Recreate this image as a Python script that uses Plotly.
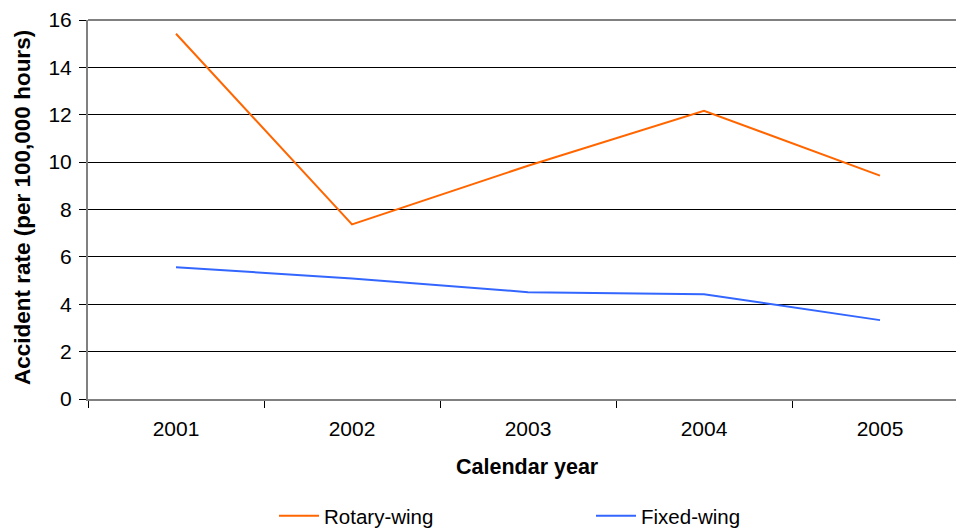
import plotly.graph_objects as go

years = ["2001", "2002", "2003", "2004", "2005"]
rotary_wing = [15.42, 7.37, 9.85, 12.17, 9.43]
fixed_wing = [5.56, 5.09, 4.51, 4.42, 3.33]
y_ticks = [0, 2, 4, 6, 8, 10, 12, 14, 16]

FONT = "Liberation Sans, Arial, sans-serif"
W, H = 956, 521  # page body has an 8px margin

fig = go.Figure()
fig.add_trace(go.Scatter(x=years, y=rotary_wing, mode="lines", name="Rotary-wing",
                         line=dict(color="#FF6600", width=2)))
fig.add_trace(go.Scatter(x=years, y=fixed_wing, mode="lines", name="Fixed-wing",
                         line=dict(color="#3366FF", width=2)))

fig.update_layout(
    width=W, height=H,
    margin=dict(l=80, r=0, t=12, b=130, pad=0),
    paper_bgcolor="white", plot_bgcolor="white",
    font=dict(family=FONT, size=21, color="black"),
    showlegend=True,
    legend=dict(orientation="h", x=(274 - 8) / W, xanchor="left",
                y=1 - (516 - 8) / H, yanchor="middle",
                xref="container", yref="container",
                entrywidth=262, entrywidthmode="pixels",
                font=dict(size=20.5), itemwidth=40),
    xaxis=dict(type="category", range=[-0.5, 4.5 - 4 / 176],
               showline=True, linecolor="#808080", linewidth=2, mirror=False,
               ticks="outside", tickson="boundaries", ticklen=7, tickcolor="black",
               tickwidth=1, showgrid=False, zeroline=False,
               ticklabelstandoff=10, tickfont=dict(size=21)),
    yaxis=dict(range=[0, 16], tickvals=y_ticks,
               showline=True, linecolor="#808080", linewidth=2, mirror=False,
               ticks="outside", ticklen=7, tickcolor="black", tickwidth=1,
               showgrid=True, gridcolor="black", gridwidth=1, zeroline=False,
               ticklabelstandoff=3, tickfont=dict(size=21)),
)

# top border of plot area
fig.add_shape(type="line", xref="paper", yref="paper", x0=0, x1=1, y0=1, y1=1,
              line=dict(color="#808080", width=2))

fig.add_annotation(text="<b>Calendar year</b>", xref="paper", yref="paper",
                   x=(527 - 88) / 876, y=-(467 - 399) / 379, showarrow=False,
                   xanchor="center", yanchor="middle", font=dict(size=21.5))
fig.add_annotation(text="<b>Accident rate (per 100,000 hours)</b>", xref="paper", yref="paper",
                   x=-(88 - 22) / 876, y=(399 - 208) / 379, showarrow=False, textangle=-90,
                   xanchor="center", yanchor="middle", font=dict(size=22.5))

fig.write_html("out.html")
